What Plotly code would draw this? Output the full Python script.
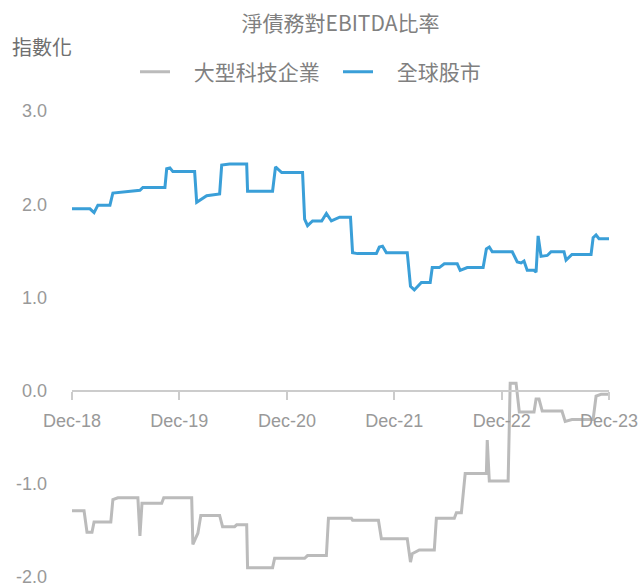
import plotly.graph_objects as go

# 全球股市 (blue)
global_dates = ["2018-12-31","2019-03-02","2019-03-16","2019-03-29","2019-05-09","2019-05-19","2019-08-19","2019-08-29",
    "2019-11-12","2019-11-18","2019-11-29","2019-12-09","2020-02-21","2020-02-28","2020-04-02","2020-05-16","2020-05-23",
    "2020-06-19","2020-08-16","2020-08-19","2020-11-12","2020-11-22","2020-12-13","2021-02-22","2021-03-01","2021-03-11",
    "2021-03-28","2021-04-28","2021-05-14","2021-05-31","2021-06-28","2021-08-04","2021-08-11","2021-08-28","2021-10-31",
    "2021-11-10","2021-11-21","2021-12-04","2022-02-13","2022-02-24","2022-03-09","2022-04-02","2022-05-02","2022-05-09",
    "2022-06-02","2022-06-19","2022-08-02","2022-08-12","2022-09-05","2022-10-29","2022-11-09","2022-11-19","2022-11-29",
    "2023-02-05","2023-02-22","2023-03-07","2023-03-17","2023-03-28","2023-04-20","2023-04-27","2023-05-04","2023-05-14",
    "2023-06-04","2023-06-17","2023-07-31","2023-08-07","2023-08-27","2023-10-31","2023-11-07","2023-11-17","2023-11-27",
    "2023-12-31"]
global_vals = [1.95,1.95,1.91,1.99,1.99,2.12,2.15,2.18,
    2.18,2.38,2.39,2.35,2.35,2.02,2.09,2.11,2.42,
    2.43,2.43,2.14,2.14,2.40,2.34,2.34,1.84,1.77,
    1.82,1.82,1.90,1.82,1.86,1.86,1.48,1.47,1.47,
    1.54,1.55,1.48,1.48,1.12,1.08,1.16,1.16,1.32,
    1.32,1.36,1.36,1.29,1.32,1.32,1.52,1.54,1.49,
    1.49,1.38,1.37,1.39,1.29,1.29,1.27,1.66,1.44,
    1.45,1.49,1.49,1.40,1.46,1.46,1.64,1.67,1.63,
    1.63]

# 大型科技企業 (gray)
tech_dates = ["2018-12-31","2019-02-10","2019-02-20","2019-03-09","2019-03-16","2019-05-12","2019-05-19","2019-06-05",
    "2019-08-12","2019-08-19","2019-08-26","2019-11-01","2019-11-08","2020-02-11","2020-02-15","2020-02-28","2020-03-03",
    "2020-03-13","2020-05-16","2020-05-26","2020-07-06","2020-07-13","2020-08-16","2020-08-19","2020-11-12","2020-11-19",
    "2021-03-01","2021-03-11","2021-05-14","2021-05-21","2021-08-07","2021-08-11","2021-11-07","2021-11-17","2022-02-13",
    "2022-02-24","2022-03-02","2022-03-26","2022-05-16","2022-05-23","2022-07-23","2022-07-30","2022-08-16","2022-08-29",
    "2022-11-09","2022-11-12","2022-11-19","2023-01-22","2023-01-29","2023-02-18","2023-03-01","2023-04-20","2023-04-27",
    "2023-05-07","2023-05-18","2023-07-24","2023-08-04","2023-08-27","2023-11-07","2023-11-17","2023-12-04","2023-12-31"]
tech_vals = [-1.29,-1.29,-1.52,-1.52,-1.41,-1.41,-1.17,-1.15,
    -1.15,-1.56,-1.21,-1.21,-1.15,-1.15,-1.65,-1.55,-1.53,
    -1.34,-1.34,-1.46,-1.46,-1.44,-1.44,-1.90,-1.90,-1.80,
    -1.80,-1.77,-1.77,-1.37,-1.37,-1.39,-1.39,-1.59,-1.59,
    -1.84,-1.75,-1.71,-1.71,-1.37,-1.37,-1.31,-1.31,-0.89,
    -0.89,-0.53,-0.97,-0.97,0.08,0.08,-0.23,-0.23,-0.09,
    -0.09,-0.22,-0.22,-0.33,-0.31,-0.31,-0.06,-0.04,-0.04]

x_tick_vals = ["2018-12-31","2019-12-31","2020-12-31","2021-12-31","2022-12-31","2023-12-31"]
x_tick_text = ["Dec-18","Dec-19","Dec-20","Dec-21","Dec-22","Dec-23"]
y_tick_vals = [-2, -1, 0, 1, 2, 3]
y_tick_text = ["-2.0", "-1.0", "0.0", "1.0", "2.0", "3.0"]

FONT = "Liberation Sans, Noto Sans CJK TC, sans-serif"
CJK = "Noto Sans CJK TC, sans-serif"
PAD = "\u00a0\u00a0\u00a0\u00a0"

W, H = 639, 586
L, T, R, B = 72, 111, 30, 9
PW, PH = W - L - R, H - T - B

fig = go.Figure()
fig.add_trace(go.Scatter(x=tech_dates, y=tech_vals, mode="lines", name=PAD + "大型科技企業",
                         line=dict(color="#BBBBBB", width=3), cliponaxis=False))
fig.add_trace(go.Scatter(x=global_dates, y=global_vals, mode="lines", name=PAD + "全球股市",
                         line=dict(color="#3A9FD8", width=3), cliponaxis=False))

zero_pos = (0 - (-2)) / 5.0

fig.update_layout(
    width=W, height=H,
    margin=dict(l=L, r=R, t=T, b=B, autoexpand=False),
    paper_bgcolor="white", plot_bgcolor="white",
    font=dict(family=FONT, color="#999999", size=18),
    title=dict(text="淨債務對EBITDA比率", x=0.5, xref="paper", xanchor="center",
               y=1 - 24/H, yref="container", yanchor="middle",
               font=dict(family=CJK, size=21, color="#808080")),
    showlegend=True,
    legend=dict(orientation="h", x=(135-L)/PW, xanchor="left", y=1 + (T-72)/PH, yanchor="middle",
                font=dict(family=CJK, size=21, color="#808080"), itemwidth=30,
                entrywidth=158, entrywidthmode="pixels",
                bgcolor="rgba(0,0,0,0)"),
    xaxis=dict(type="date", range=["2018-12-31", "2023-12-31"], anchor="free", position=zero_pos,
               automargin=False, ticklabeloverflow="allow",
               showgrid=False, zeroline=False, showline=True, linecolor="#CCCCCC", linewidth=2,
               tickmode="array", tickvals=x_tick_vals, ticktext=x_tick_text,
               ticks="outside", ticklen=8, tickwidth=2, tickcolor="#CCCCCC", ticklabelstandoff=6,
               tickfont=dict(family=FONT, size=18, color="#999999")),
    yaxis=dict(range=[-2, 3], showgrid=False, zeroline=False, showline=False, automargin=False,
               ticklabeloverflow="allow",
               tickmode="array", tickvals=y_tick_vals, ticktext=y_tick_text,
               ticks="", ticklabelstandoff=24,
               tickfont=dict(family=FONT, size=18, color="#999999")),
)

fig.add_annotation(text="指數化", xref="paper", yref="paper",
                   x=-(L-10)/PW, xanchor="left", y=1 + (T-47)/PH, yanchor="middle",
                   showarrow=False, font=dict(family=CJK, size=20, color="#707070"))

fig.write_html("out.html", config={"displayModeBar": False},
               post_script="document.body.style.margin='0';document.body.style.overflow='hidden';")
